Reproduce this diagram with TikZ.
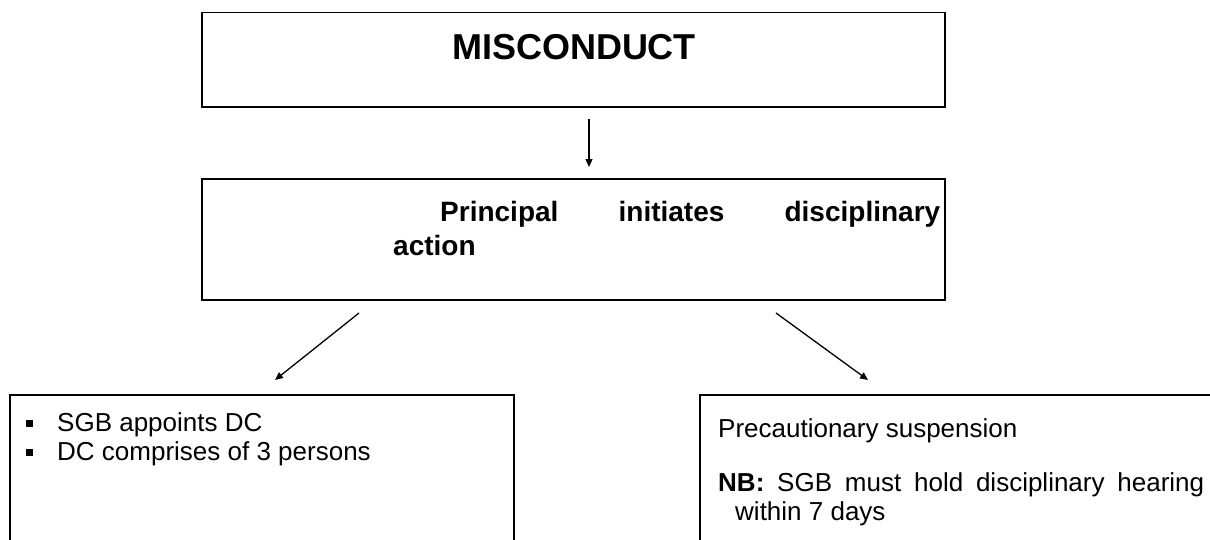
\documentclass[tikz,border=0pt]{standalone}
\usepackage{fontspec}
\setmainfont{Liberation Sans}
\usetikzlibrary{arrows.meta}
\begin{document}
\begin{tikzpicture}[x=1pt,y=-1pt,
  box/.style={draw, line width=1.8pt, outer sep=0pt, inner sep=0pt, anchor=north west},
  arr/.style={line width=1.3pt, -{Triangle[length=8pt,width=7pt]}},
  body/.style={font=\fontsize{26}{29}\selectfont, inner sep=0pt, anchor=base west},
  bul/.style={fill, minimum size=6.5pt, inner sep=0pt, outer sep=0pt}]
\useasboundingbox (0,0) rectangle (1210,539);
\clip (0,0) rectangle (1210,539);
\fill[white] (0,0) rectangle (1210,539);
% boxes
\node[box, minimum width=743pt, minimum height=94.5pt] (mis) at (202,12.5) {};
\node[box, minimum width=743pt, minimum height=121pt] (pri) at (202,179) {};
\node[box, minimum width=504pt, minimum height=200pt] (sgb) at (10,395) {};
\node[box, minimum width=560pt, minimum height=200pt] (pre) at (700,395) {};
% texts
\node[inner sep=0pt, anchor=base, font=\fontsize{36}{42}\selectfont\bfseries] (tmis) at (574,59) {MISCONDUCT};
\node[inner sep=0pt, anchor=base west, text width=547pt, align=justify, font=\fontsize{28}{34}\selectfont\bfseries] (tpri) at (393,221) {\hspace*{47pt}Principal initiates disciplinary\linebreak action};
\node[bul] (b1) at (29.5,423.5) {};
\node[bul] (b2) at (29.5,452.5) {};
\node[body] (l1) at (57,431) {SGB appoints DC};
\node[body] (l2) at (57,460) {DC comprises of 3 persons};
\node[body] (r1) at (718,437) {Precautionary suspension};
\node[body] (r2) at (718,491) {\makebox[486pt][s]{\textbf{NB:} SGB must hold disciplinary hearing}};
\node[body] (r3) at (735,520) {within 7 days};
% connectors
\coordinate (a1s) at (589,119);
\coordinate (a1e) at (589,167);
\coordinate (a2s) at (359,313);
\coordinate (a2e) at (275,380);
\coordinate (a3s) at (776,313);
\coordinate (a3e) at (868,380);
\draw[arr] (a1s) -- (a1e);
\draw[arr] (a2s) -- (a2e);
\draw[arr] (a3s) -- (a3e);
\end{tikzpicture}
\end{document}
